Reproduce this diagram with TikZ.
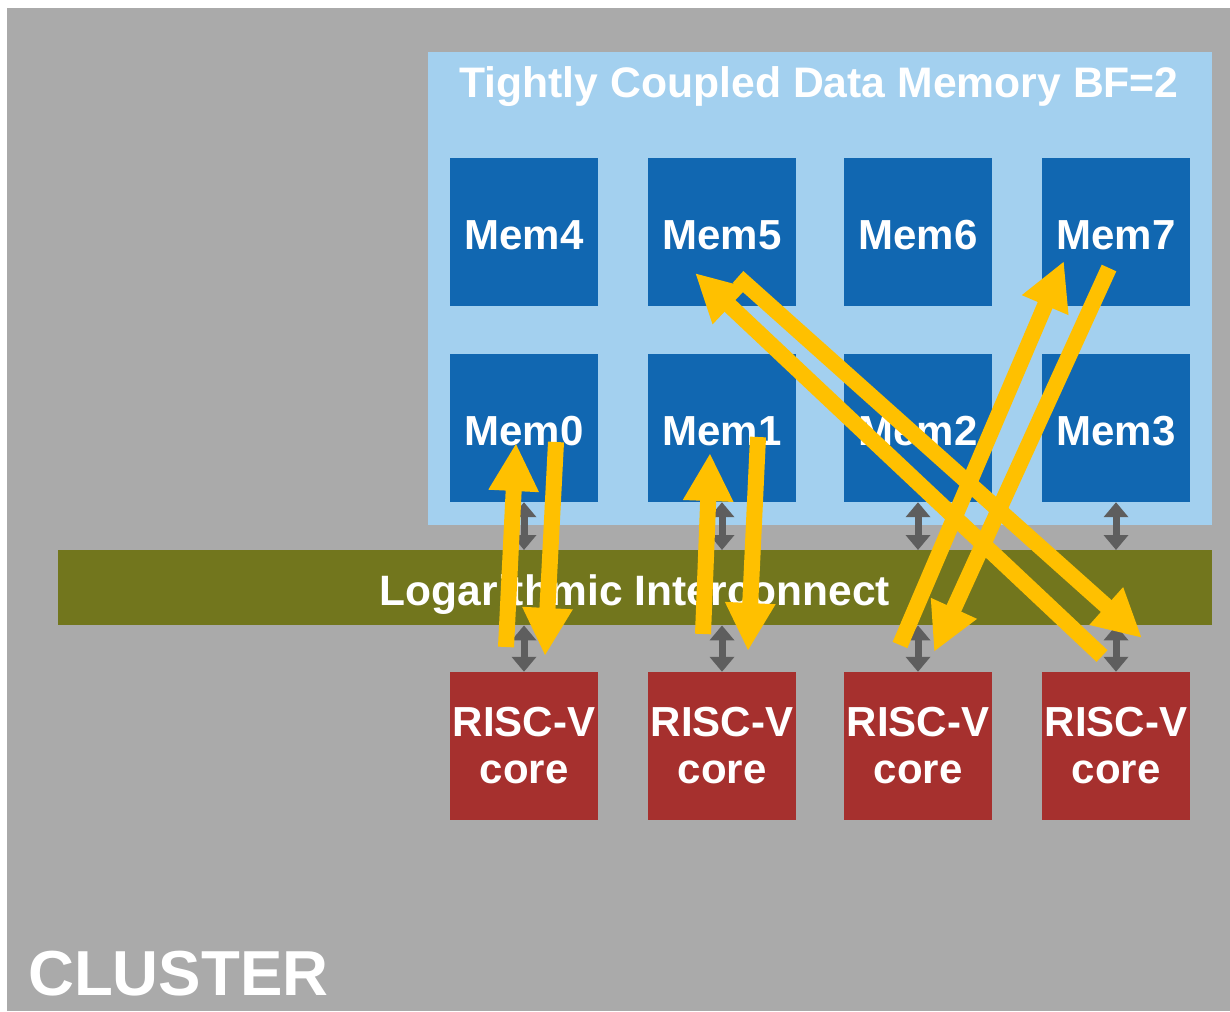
\documentclass[tikz,border=0pt]{standalone}
\usepackage{fontspec}
\setmainfont{Liberation Sans}
\usetikzlibrary{arrows.meta}

\definecolor{clustergray}{HTML}{AAAAAA}
\definecolor{tcdmblue}{HTML}{A3D0EF}
\definecolor{membank}{HTML}{1167B1}
\definecolor{busolive}{HTML}{72761D}
\definecolor{corered}{HTML}{A6302E}
\definecolor{flowyellow}{HTML}{FFC000}
\definecolor{portgray}{HTML}{5E5E5E}

\tikzset{
  lbl/.style={text=white, font=\fontsize{42pt}{47pt}\selectfont\bfseries},
  bankbox/.style={lbl, fill=membank, inner sep=0pt, minimum width=148pt, minimum height=148pt, text height=34pt, text depth=0pt},
  corebox/.style={lbl, fill=corered, inner sep=0pt, minimum width=148pt, minimum height=148pt, align=center},
  port/.style={draw=portgray, line width=7pt, {Triangle[width=24pt,length=15pt]}-{Triangle[width=24pt,length=15pt]}},
  flow/.style={draw=flowyellow, line width=16pt, -{Triangle[width=47pt,length=48pt]}},
}

\begin{document}
\begin{tikzpicture}[x=1pt,y=-1pt]
\useasboundingbox (0,0) rectangle (1230,1011);
\fill[white] (0,0) rectangle (1230,1011);

% cluster background and its label
\node[fill=clustergray, inner sep=0pt, minimum width=1223pt, minimum height=1003pt, anchor=north west] (cluster) at (7,8) {};
\node[lbl, font=\fontsize{63.6pt}{70pt}\selectfont\bfseries, anchor=base west, inner sep=0pt] (clusterlbl) at (28,995) {CLUSTER};

% tightly coupled data memory
\node[fill=tcdmblue, inner sep=0pt, minimum width=784pt, minimum height=473pt, anchor=north west] (tcdm) at (428,52) {};
\node[lbl, font=\fontsize{42.7pt}{48pt}\selectfont\bfseries, anchor=base, inner sep=0pt] (tcdmlbl) at (819,98) {Tightly Coupled Data Memory BF=2};

\node[bankbox] (m4) at (524,232) {Mem4};
\node[bankbox] (m5) at (722,232) {Mem5};
\node[bankbox] (m6) at (918,232) {Mem6};
\node[bankbox] (m7) at (1116,232) {Mem7};
\node[bankbox] (m0) at (524,428) {Mem0};
\node[bankbox] (m1) at (722,428) {Mem1};
\node[bankbox] (m2) at (918,428) {Mem2};
\node[bankbox] (m3) at (1116,428) {Mem3};

% interconnect
\node[fill=busolive, inner sep=0pt, minimum width=1154pt, minimum height=75pt, anchor=north west] (bus) at (58,550) {};
\node[lbl, font=\fontsize{42.5pt}{48pt}\selectfont\bfseries, anchor=base, inner sep=0pt] (buslbl) at (635,605) {Logarithmic Interconnect};

% cores
\node[corebox] (c0) at (524,746) {RISC-V\\core};
\node[corebox] (c1) at (722,746) {RISC-V\\core};
\node[corebox] (c2) at (918,746) {RISC-V\\core};
\node[corebox] (c3) at (1116,746) {RISC-V\\core};

% bank and core ports
\foreach \b/\c in {m0/c0, m1/c1, m2/c2, m3/c3} {
  \draw[port] (\b.south) -- (\b.south |- bus.north);
  \draw[port] (\c.north |- bus.south) -- (\c.north);
}

% access paths
\coordinate (s1) at (506,647);  \coordinate (e1) at (516,443);
\coordinate (s2) at (556,442);  \coordinate (e2) at (545,656);
\coordinate (s3) at (703,634);  \coordinate (e3) at (710,453);
\coordinate (s4) at (758,437);  \coordinate (e4) at (748,651);
\coordinate (s5) at (900,645);  \coordinate (e5) at (1064,261);
\coordinate (s6) at (1109,268); \coordinate (e6) at (934,652);
\coordinate (s7) at (1102,656); \coordinate (e7) at (695,273);
\coordinate (s8) at (738,277);  \coordinate (e8) at (1142,638);

\foreach \i in {1,...,8} {
  \draw[flow] (s\i) -- (e\i);
}
\end{tikzpicture}
\end{document}
